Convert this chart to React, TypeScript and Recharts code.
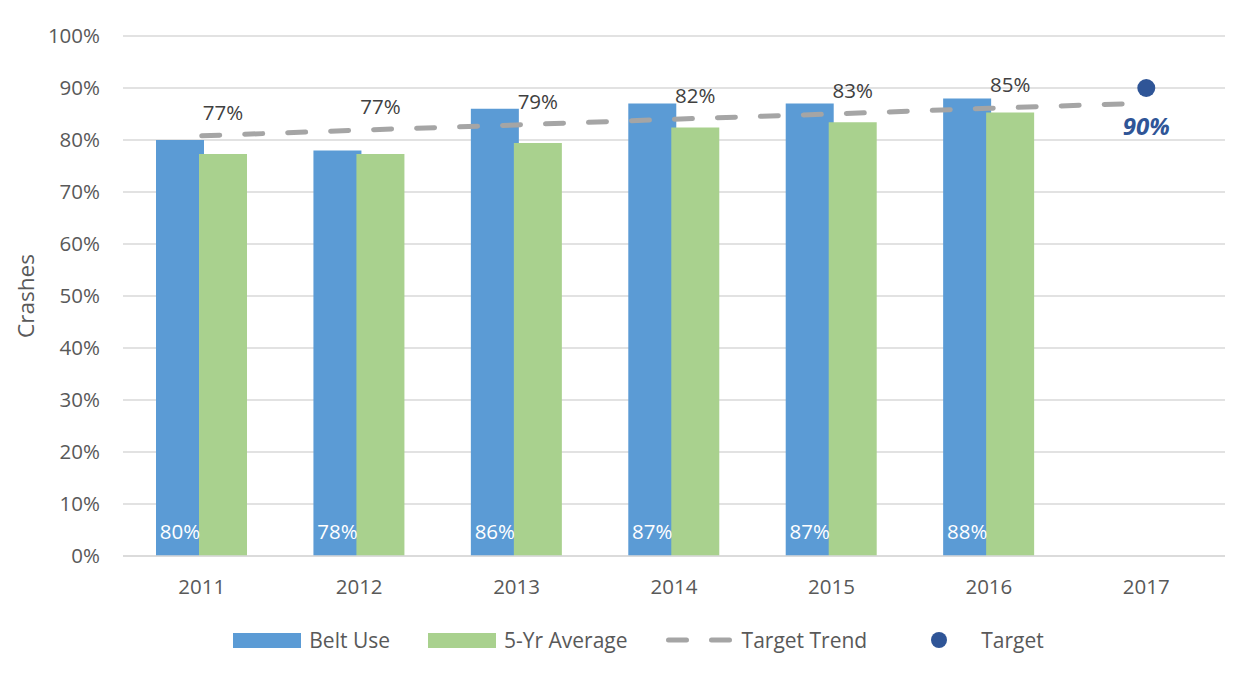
import {
  ComposedChart,
  Bar,
  Line,
  XAxis,
  YAxis,
  CartesianGrid,
  Legend,
  LabelList,
} from 'recharts';

const years = ['2011', '2012', '2013', '2014', '2015', '2016', '2017'];
const beltUse = [80, 78, 86, 87, 87, 88, null];
const fiveYrAvg = [77.3, 77.3, 79.4, 82.4, 83.4, 85.3, null];
const targetTrend = [80.8, 81.9, 82.9, 84.0, 85.0, 86.1, 87.1];
const target = [null, null, null, null, null, null, 90];
const yTicks = [0, 10, 20, 30, 40, 50, 60, 70, 80, 90, 100];

const BLUE = '#5b9bd5';
const GREEN = '#a9d18e';
const GRAY = '#a5a5a5';
const NAVY = '#2f5597';
const TEXT = '#595959';
const FONT = '"Open Sans", sans-serif';

const data = years.map((year, i) => ({
  year,
  belt: beltUse[i],
  avg: fiveYrAvg[i],
  trend: targetTrend[i],
  target: target[i],
}));

// 青棒の中の白い数字（下寄せ）
const BeltLabel = (props: any) => {
  const { x, y, width, height, value } = props;
  if (value == null) return null;
  return (
    <text
      x={x + width / 2}
      y={y + height - 17}
      textAnchor="middle"
      fill="#ffffff"
      fontSize={20.5}
      fontFamily={FONT}
    >
      {value}%
    </text>
  );
};

// 緑棒のラベルはトレンド線の少し上に置く
const AvgLabel = (props: any) => {
  const { x, y, width, height, value, index } = props;
  if (value == null) return null;
  const base = y + height;
  const perUnit = height / value;
  const idx = index ?? fiveYrAvg.indexOf(value);
  const trendY = base - targetTrend[idx] * perUnit;
  return (
    <text
      x={x + width / 2}
      y={trendY - 16}
      textAnchor="middle"
      fill="#404040"
      fontSize={20.5}
      fontFamily={FONT}
    >
      {Math.round(value)}%
    </text>
  );
};

const TargetDot = (props: any) => {
  const { cx, cy, value, index } = props;
  if (value == null || cy == null) return <g key={`t-${index}`} />;
  return (
    <g key={`t-${index}`}>
      <circle cx={cx} cy={cy} r={9} fill={NAVY} />
      <text
        x={cx}
        y={cy + 47}
        textAnchor="middle"
        fill={NAVY}
        fontSize={24}
        fontWeight="bold"
        fontStyle="italic"
        fontFamily={FONT}
      >
        {value}%
      </text>
    </g>
  );
};

const legendItems = [
  { label: 'Belt Use', kind: 'rect', color: BLUE },
  { label: '5-Yr Average', kind: 'rect', color: GREEN },
  { label: 'Target Trend', kind: 'dash', color: GRAY },
  { label: 'Target', kind: 'dot', color: NAVY },
];

const renderLegend = () => (
  <div
    style={{
      display: 'flex',
      justifyContent: 'center',
      alignItems: 'center',
      height: 40,
      paddingLeft: 16,
      fontFamily: FONT,
      fontSize: 21,
      color: TEXT,
    }}
  >
    {legendItems.map((it, i) => (
      <div
        key={it.label}
        style={{ display: 'flex', alignItems: 'center', marginLeft: i === 0 ? 0 : 38 }}
      >
        <svg width={68} height={20} style={{ marginRight: 8 }}>
          {it.kind === 'rect' && <rect x={0} y={3} width={68} height={15} fill={it.color} />}
          {it.kind === 'dash' && (
            <line
              x1={2.5}
              y1={10}
              x2={66}
              y2={10}
              stroke={it.color}
              strokeWidth={5}
              strokeDasharray="18 25"
              strokeLinecap="round"
            />
          )}
          {it.kind === 'dot' && <circle cx={34} cy={10} r={8} fill={it.color} />}
        </svg>
        <span>{it.label}</span>
      </div>
    ))}
  </div>
);

export default function App() {
  return (
    <div
      style={{
        marginLeft: -1,
        marginTop: -1,
        width: 1246,
        height: 666,
        borderLeft: '1px solid #d9d9d9',
        borderTop: '1px solid #d9d9d9',
        fontFamily: FONT,
      }}
    >
      <ComposedChart
        width={1245}
        height={665}
        data={data}
        margin={{ top: 28, right: 28, left: 0, bottom: 13 }}
        barGap={-5}
      >
        <CartesianGrid vertical={false} stroke="#d9d9d9" strokeWidth={1.3} />
        <XAxis
          dataKey="year"
          interval={0}
          tickLine={false}
          axisLine={{ stroke: '#d9d9d9', strokeWidth: 1.3 }}
          tick={{ fill: TEXT, fontSize: 20.5, fontFamily: FONT }}
          tickMargin={17}
          height={64}
        />
        <YAxis
          domain={[0, 100]}
          ticks={yTicks}
          tickFormatter={(v) => `${v}%`}
          width={115}
          axisLine={false}
          tickLine={false}
          tickMargin={17}
          tick={{ fill: TEXT, fontSize: 20.5, fontFamily: FONT }}
          label={{
            value: 'Crashes',
            angle: -90,
            position: 'insideLeft',
            offset: 18,
            style: { textAnchor: 'middle', fill: TEXT, fontSize: 22.5, fontFamily: FONT },
          }}
        />
        <Bar dataKey="belt" fill={BLUE} barSize={48} isAnimationActive={false}>
          <LabelList dataKey="belt" content={BeltLabel} />
        </Bar>
        <Bar dataKey="avg" fill={GREEN} barSize={48} isAnimationActive={false}>
          <LabelList dataKey="avg" content={AvgLabel} />
        </Bar>
        <Line
          type="linear"
          dataKey="trend"
          stroke={GRAY}
          strokeWidth={5}
          strokeDasharray="18 25"
          strokeLinecap="round"
          dot={false}
          activeDot={false}
          isAnimationActive={false}
        />
        <Line
          type="linear"
          dataKey="target"
          stroke="none"
          dot={TargetDot}
          activeDot={false}
          isAnimationActive={false}
        />
        <Legend
          verticalAlign="bottom"
          height={40}
          content={renderLegend}
          wrapperStyle={{ left: 0, width: 1245 }}
        />
      </ComposedChart>
    </div>
  );
}
